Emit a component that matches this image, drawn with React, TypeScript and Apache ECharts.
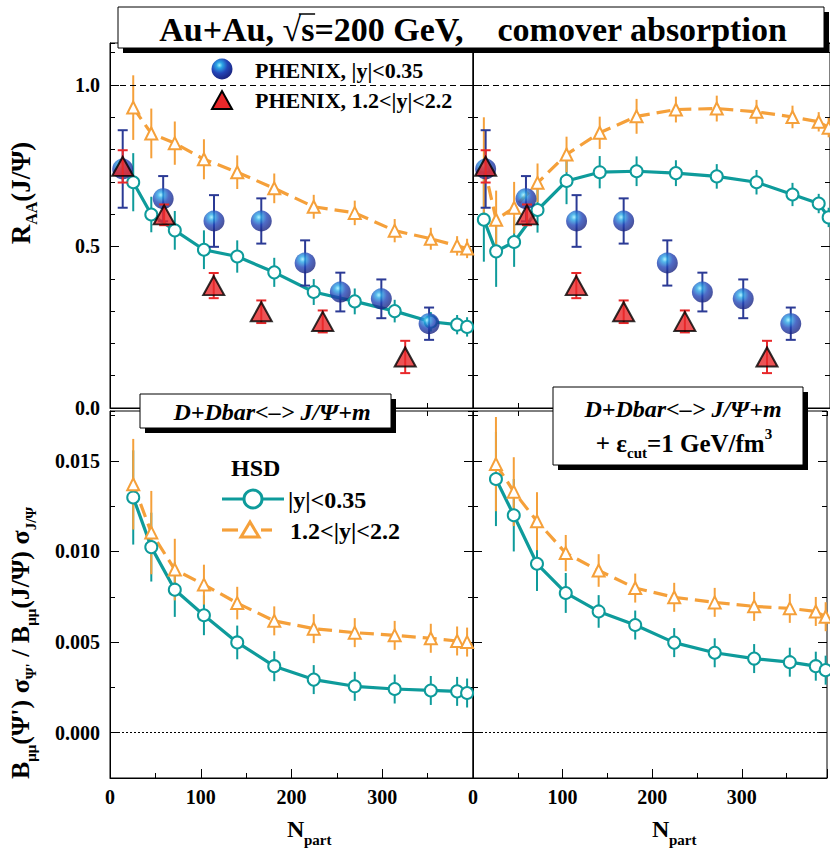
import React, { useEffect, useRef } from 'react';
import * as echarts from 'echarts';

// ---------------- data ----------------
const npart = [12, 25.6, 45.5, 71.4, 103.5, 140.2, 181, 224.5, 269.7, 313.7, 353.5, 382.5, 393.5];

// top-left: comover absorption (points 1..12 of npart)
const raaMidLeft = [0.699, 0.599, 0.55, 0.49, 0.469, 0.42, 0.359, 0.33, 0.3, 0.267, 0.258, 0.251];
const raaMidLeftErr = [0.09, 0.055, 0.06, 0.06, 0.05, 0.045, 0.04, 0.04, 0.035, 0.03, 0.03, 0.03];
const raaFwdLeft = [0.93, 0.85, 0.82, 0.77, 0.73, 0.68, 0.623, 0.604, 0.549, 0.524, 0.502, 0.494];
const raaFwdLeftErr = [0.1, 0.077, 0.067, 0.062, 0.052, 0.046, 0.037, 0.038, 0.036, 0.034, 0.03, 0.03];

// top-right: + D+Dbar <-> J/Psi + m, eps_cut (all 13 points)
const raaMidRight = [0.583, 0.485, 0.514, 0.613, 0.703, 0.73, 0.733, 0.727, 0.717, 0.699, 0.661, 0.633, 0.59];
const raaMidRightErr = [0.13, 0.11, 0.077, 0.07, 0.072, 0.05, 0.046, 0.04, 0.038, 0.038, 0.036, 0.03, 0.03];
const raaFwdRight = [0.75, 0.583, 0.62, 0.697, 0.785, 0.852, 0.903, 0.924, 0.927, 0.917, 0.901, 0.886, 0.868];
const raaFwdRightErr = [0.15, 0.09, 0.08, 0.06, 0.055, 0.05, 0.054, 0.04, 0.04, 0.037, 0.035, 0.03, 0.03];

// PHENIX data
const phenixMidX = [14, 58.6, 114.6, 166.7, 215, 253.8, 299, 351.6];
const phenixMidY = [0.74, 0.648, 0.579, 0.579, 0.449, 0.359, 0.338, 0.261];
const phenixMidErr = [0.12, 0.07, 0.08, 0.07, 0.07, 0.06, 0.06, 0.05];
const phenixFwdX = [14, 59.7, 114.3, 166.7, 234.4, 325.3];
const phenixFwdY = [0.748, 0.598, 0.379, 0.298, 0.268, 0.158];
const phenixFwdErr = [0.05, 0.032, 0.039, 0.035, 0.034, 0.05];

// bottom-left: psi'/J/psi ratio (points 1..12)
const psiMidLeft = [0.01298, 0.01024, 0.00789, 0.00648, 0.00498, 0.00367, 0.00293, 0.00256, 0.00241, 0.00233, 0.00228, 0.00219];
const psiMidLeftErr = [0.0026, 0.0019, 0.0015, 0.0011, 0.00093, 0.00083, 0.0008, 0.0008, 0.0008, 0.0008, 0.0008, 0.0008];
const psiFwdLeft = [0.01371, 0.01104, 0.009, 0.00817, 0.00715, 0.00617, 0.00574, 0.00552, 0.00537, 0.00521, 0.00506, 0.005];
const psiFwdLeftErr = [0.0025, 0.0023, 0.0017, 0.0011, 0.0009, 0.0008, 0.0008, 0.0008, 0.0008, 0.0008, 0.0008, 0.0008];

// bottom-right
const psiMidRight = [0.014, 0.012, 0.00932, 0.00771, 0.00669, 0.00594, 0.00497, 0.00441, 0.00409, 0.00389, 0.00367, 0.00345];
const psiMidRightErr = [0.0026, 0.002, 0.0015, 0.0011, 0.0009, 0.0008, 0.0008, 0.0008, 0.0008, 0.0008, 0.0008, 0.0008];
const psiFwdRight = [0.01482, 0.0133, 0.01167, 0.00991, 0.00895, 0.00798, 0.00747, 0.00719, 0.00697, 0.00686, 0.00669, 0.0064];
const psiFwdRightErr = [0.0026, 0.0019, 0.0016, 0.001, 0.0009, 0.0008, 0.0008, 0.0008, 0.0008, 0.0008, 0.0008, 0.0008];

// ---------------- style ----------------
const SERIF = 'Liberation Serif';
const TEAL = '#0e9b9b';
const ORANGE = '#f5a03a';
const BLUE_BAR = '#2b3a95';
const RED = '#e8282a';

const TITLE_TEXT = 'Au+Au, \u221As=200 GeV,\u00a0\u00a0\u00a0\u00a0comover absorption';

const isMult = (v: number, step: number) => {
  const k = v / step;
  return Math.abs(k - Math.round(k)) < 1e-4;
};

function textWidth(s: string, font: string) {
  const ctx = document.createElement('canvas').getContext('2d');
  if (!ctx) return s.length * 15;
  ctx.font = font;
  return ctx.measureText(s).width;
}

function sphereGradient() {
  return new echarts.graphic.RadialGradient(0.38, 0.32, 0.7, [
    { offset: 0, color: '#9af0ff' },
    { offset: 0.2, color: '#2ba6e6' },
    { offset: 0.55, color: '#2346b8' },
    { offset: 1, color: '#1a237e' },
  ]);
}

function buildOption() {
  const grids = [
    { left: 110, top: 43, width: 363, height: 365 },
    { left: 473, top: 43, width: 360, height: 365 },
    { left: 110, top: 411, width: 363, height: 367 },
    { left: 473, top: 411, width: 360, height: 367 },
  ].map((g) => ({ ...g, show: true, borderColor: '#000', borderWidth: 1, backgroundColor: 'transparent' }));

  const xAxis: any[] = [];
  const yAxis: any[] = [];
  const XI: number[] = [];
  const YI: number[] = [];
  const line = { color: '#000', width: 1 };
  const labelBase = { fontFamily: SERIF, fontWeight: 'bold', fontSize: 20, color: '#000' };

  function addAxes(g: number, xMax: number, yMin: number, yMax: number, yMinor: number, yMajors: number[],
    showX: boolean, showY: boolean, yFmt: (v: number) => string, xTop: boolean) {
    XI[g] = xAxis.length;
    xAxis.push({
      type: 'value', gridIndex: g, min: 0, max: xMax, interval: 50, position: 'bottom',
      axisLine: { show: true, onZero: false, lineStyle: line },
      axisTick: { show: true, inside: true, length: 5, lineStyle: line },
      axisLabel: { show: showX, ...labelBase, margin: 9, formatter: (v: number) => (isMult(v, 100) && v < 350 ? String(Math.round(v)) : '') },
      splitLine: { show: false },
    });
    xAxis.push({
      type: 'value', gridIndex: g, min: 0, max: xMax, interval: 100, position: 'bottom',
      axisLine: { show: false, onZero: false },
      axisTick: { show: true, inside: true, length: 9, lineStyle: line },
      axisLabel: { show: false }, splitLine: { show: false },
    });
    if (xTop) {
      xAxis.push({
        type: 'value', gridIndex: g, min: 0, max: xMax, interval: 50, position: 'top',
        axisLine: { show: false, onZero: false },
        axisTick: { show: true, inside: true, length: 5, lineStyle: line },
        axisLabel: { show: false }, splitLine: { show: false },
      });
    }
    YI[g] = yAxis.length;
    for (const pos of ['left', 'right']) {
      yAxis.push({
        type: 'value', gridIndex: g, min: yMin, max: yMax, interval: yMinor, position: pos,
        axisLine: { show: pos === 'left', onZero: false, lineStyle: line },
        axisTick: { show: true, inside: true, length: 5, lineStyle: line },
        axisLabel: { show: showY && pos === 'left', ...labelBase, margin: 10, formatter: yFmt },
        splitLine: { show: false },
      });
      yAxis.push({
        type: 'value', gridIndex: g, min: yMin, max: yMax, interval: yMinor, position: pos,
        axisLine: { show: false, onZero: false },
        axisTick: { show: true, inside: true, length: 9, lineStyle: line, customValues: yMajors },
        axisLabel: { show: false }, splitLine: { show: false },
      });
    }
  }

  const topFmt = (v: number) => (isMult(v, 0.5) && v < 1.05 ? v.toFixed(1) : '');
  const botFmt = (v: number) => (isMult(v, 0.005) && v > -0.001 && v < 0.0165 ? Math.abs(v).toFixed(3) : '');
  const topMajors = [0, 0.5, 1.0];
  const botMajors = [0, 0.005, 0.01, 0.015];

  addAxes(0, 400, 0, 1.13, 0.1, topMajors, false, true, topFmt, false);
  addAxes(1, 395, 0, 1.13, 0.1, topMajors, false, false, topFmt, false);
  addAxes(2, 400, -0.0025, 0.01775, 0.0025, botMajors, true, true, botFmt, true);
  addAxes(3, 395, -0.0025, 0.01775, 0.0025, botMajors, true, false, botFmt, true);

  const series: any[] = [];

  function errBars(g: number, xs: number[], ys: number[], es: number[], color: string, width: number, cap: number, z: number) {
    series.push({
      type: 'custom', xAxisIndex: XI[g], yAxisIndex: YI[g], z, clip: true, silent: true,
      data: xs.map((x, i) => [x, ys[i] - es[i], ys[i] + es[i]]),
      encode: { x: 0, y: [1, 2] },
      renderItem: (_p: any, api: any) => {
        const x = api.value(0);
        const a = api.coord([x, api.value(1)]);
        const b = api.coord([x, api.value(2)]);
        const style = { stroke: color, lineWidth: width };
        const children: any[] = [{ type: 'line', shape: { x1: a[0], y1: a[1], x2: b[0], y2: b[1] }, style }];
        if (cap > 0) {
          children.push({ type: 'line', shape: { x1: a[0] - cap, y1: a[1], x2: a[0] + cap, y2: a[1] }, style });
          children.push({ type: 'line', shape: { x1: b[0] - cap, y1: b[1], x2: b[0] + cap, y2: b[1] }, style });
        }
        return { type: 'group', children };
      },
    });
  }

  function curve(g: number, xs: number[], ys: number[], color: string, symbol: string, dashed: boolean, refY: number | null, dotted: boolean) {
    const s: any = {
      type: 'line', xAxisIndex: XI[g], yAxisIndex: YI[g], z: 3, clip: true, silent: true,
      data: xs.map((x, i) => [x, ys[i]]),
      symbol, symbolSize: 12, showSymbol: true, showAllSymbol: true,
      lineStyle: { color, width: 3.2, type: dashed ? [14, 7] : 'solid' },
      itemStyle: { color: '#fff', borderColor: color, borderWidth: 2 },
      emphasis: { disabled: true },
    };
    if (refY !== null) {
      s.markLine = {
        silent: true, symbol: ['none', 'none'], label: { show: false },
        lineStyle: { color: '#000', width: 1, type: dotted ? [2, 2] : [6, 4] },
        data: [{ yAxis: refY }],
      };
    }
    series.push(s);
  }

  function phenix(g: number) {
    errBars(g, phenixMidX, phenixMidY, phenixMidErr, BLUE_BAR, 2, 5, 4);
    series.push({
      type: 'scatter', xAxisIndex: XI[g], yAxisIndex: YI[g], z: 5, silent: true,
      data: phenixMidX.map((x, i) => [x, phenixMidY[i]]),
      symbol: 'circle', symbolSize: 21,
      itemStyle: { color: sphereGradient() },
    });
    errBars(g, phenixFwdX, phenixFwdY, phenixFwdErr, RED, 2, 5, 6);
    series.push({
      type: 'scatter', xAxisIndex: XI[g], yAxisIndex: YI[g], z: 7, silent: true,
      data: phenixFwdX.map((x, i) => [x, phenixFwdY[i]]),
      symbol: 'triangle', symbolSize: [21, 19],
      itemStyle: { color: RED, borderColor: '#000', borderWidth: 2 },
    });
  }

  const xL = npart.slice(1);
  // top-left
  errBars(0, xL, raaMidLeft, raaMidLeftErr, TEAL, 2, 0, 2);
  errBars(0, xL, raaFwdLeft, raaFwdLeftErr, ORANGE, 2, 0, 2);
  curve(0, xL, raaMidLeft, TEAL, 'circle', false, 1, false);
  curve(0, xL, raaFwdLeft, ORANGE, 'triangle', true, null, false);
  phenix(0);
  // top-right
  errBars(1, npart, raaMidRight, raaMidRightErr, TEAL, 2, 0, 2);
  errBars(1, npart, raaFwdRight, raaFwdRightErr, ORANGE, 2, 0, 2);
  curve(1, npart, raaMidRight, TEAL, 'circle', false, 1, false);
  curve(1, npart, raaFwdRight, ORANGE, 'triangle', true, null, false);
  phenix(1);
  // bottom-left
  errBars(2, xL, psiMidLeft, psiMidLeftErr, TEAL, 2, 0, 2);
  errBars(2, xL, psiFwdLeft, psiFwdLeftErr, ORANGE, 2, 0, 2);
  curve(2, xL, psiMidLeft, TEAL, 'circle', false, 0, true);
  curve(2, xL, psiFwdLeft, ORANGE, 'triangle', true, null, false);
  // bottom-right
  errBars(3, xL, psiMidRight, psiMidRightErr, TEAL, 2, 0, 2);
  errBars(3, xL, psiFwdRight, psiFwdRightErr, ORANGE, 2, 0, 2);
  curve(3, xL, psiMidRight, TEAL, 'circle', false, 0, true);
  curve(3, xL, psiFwdRight, ORANGE, 'triangle', true, null, false);

  const bold = (size: number) => ({ fontFamily: SERIF, fontWeight: 'bold', fontSize: size, fill: '#000' });
  const boldItalic = (size: number) => ({ fontFamily: SERIF, fontWeight: 'bold', fontStyle: 'italic', fontSize: size, fill: '#000' });
  const richMain = (size: number, lh: number) => ({ fontFamily: SERIF, fontWeight: 'bold', fontSize: size, lineHeight: lh, verticalAlign: 'middle', fill: '#000', color: '#000' });
  const richSub = (size: number) => ({ fontFamily: SERIF, fontWeight: 'bold', fontSize: size, lineHeight: 12, verticalAlign: 'bottom', fill: '#000', color: '#000' });
  const richSup = (size: number) => ({ fontFamily: SERIF, fontWeight: 'bold', fontSize: size, lineHeight: 12, verticalAlign: 'top', fill: '#000', color: '#000' });

  // overline for the square root in the title
  const titleFont = `bold 34px ${SERIF}`;
  const titleW = textWidth(TITLE_TEXT, titleFont);
  const titleStart = 473 - titleW / 2;
  const sqrtEnd = titleStart + textWidth('Au+Au, \u221A', titleFont);
  const sEnd = titleStart + textWidth('Au+Au, \u221As', titleFont);

  const elements: any[] = [
    // title box
    { type: 'rect', z: 100, shape: { x: 123, y: 12, width: 706, height: 41 }, style: { fill: '#000' } },
    { type: 'rect', z: 101, shape: { x: 118, y: 7, width: 706, height: 41 }, style: { fill: '#fff', stroke: '#000', lineWidth: 1 } },
    {
      type: 'text', z: 102, x: 473, y: 29,
      style: { text: TITLE_TEXT, ...bold(34), align: 'center', verticalAlign: 'middle' },
    },
    { type: 'line', z: 103, shape: { x1: sqrtEnd - 2, y1: 14, x2: sEnd + 1, y2: 14 }, style: { stroke: '#000', lineWidth: 1.5 } },
    // PHENIX legend
    { type: 'circle', z: 102, shape: { cx: 222, cy: 69, r: 10.5 }, style: { fill: sphereGradient() } },
    { type: 'polygon', z: 102, shape: { points: [[212, 109], [232, 109], [222, 91]] }, style: { fill: RED, stroke: '#000', lineWidth: 2 } },
    { type: 'text', z: 102, x: 255, y: 70, style: { text: 'PHENIX, |y|<0.35', ...bold(22), align: 'left', verticalAlign: 'middle' } },
    { type: 'text', z: 102, x: 255, y: 100, style: { text: 'PHENIX, 1.2<|y|<2.2', ...bold(22), align: 'left', verticalAlign: 'middle' } },
    // HSD legend
    { type: 'text', z: 102, x: 231, y: 468, style: { text: 'HSD', ...bold(24), align: 'left', verticalAlign: 'middle' } },
    { type: 'line', z: 102, shape: { x1: 222, y1: 499, x2: 284, y2: 499 }, style: { stroke: TEAL, lineWidth: 3.2 } },
    { type: 'circle', z: 103, shape: { cx: 253, cy: 499, r: 9 }, style: { fill: '#fff', stroke: TEAL, lineWidth: 3 } },
    { type: 'text', z: 102, x: 288, y: 500, style: { text: '|y|<0.35', ...bold(24), align: 'left', verticalAlign: 'middle' } },
    { type: 'line', z: 102, shape: { x1: 222, y1: 530, x2: 238, y2: 530 }, style: { stroke: ORANGE, lineWidth: 3.2 } },
    { type: 'line', z: 102, shape: { x1: 261, y1: 530, x2: 272, y2: 530 }, style: { stroke: ORANGE, lineWidth: 3.2 } },
    { type: 'polygon', z: 103, shape: { points: [[241, 537], [259, 537], [250, 522]] }, style: { fill: '#fff', stroke: ORANGE, lineWidth: 3 } },
    { type: 'text', z: 102, x: 290, y: 531, style: { text: '1.2<|y|<2.2', ...bold(24), align: 'left', verticalAlign: 'middle' } },
    // bottom-left box
    { type: 'rect', z: 100, shape: { x: 145, y: 399, width: 251, height: 34 }, style: { fill: '#000' } },
    { type: 'rect', z: 101, shape: { x: 140, y: 394, width: 251, height: 34 }, style: { fill: '#fff', stroke: '#000', lineWidth: 1 } },
    { type: 'text', z: 102, x: 272, y: 412, style: { text: 'D+Dbar<\u2013> J/\u03A8+m', ...boldItalic(24), align: 'center', verticalAlign: 'middle' } },
    // bottom-right box
    { type: 'rect', z: 100, shape: { x: 558, y: 392, width: 250, height: 78 }, style: { fill: '#000' } },
    { type: 'rect', z: 101, shape: { x: 553, y: 387, width: 250, height: 78 }, style: { fill: '#fff', stroke: '#000', lineWidth: 1 } },
    { type: 'text', z: 102, x: 683, y: 409, style: { text: 'D+Dbar<\u2013> J/\u03A8+m', ...boldItalic(24), align: 'center', verticalAlign: 'middle' } },
    {
      type: 'text', z: 102, x: 684, y: 443,
      style: {
        text: '{m|+ \u03B5}{s|cut}{m|=1 GeV/fm}{p|3}', align: 'center', verticalAlign: 'middle', fill: '#000',
        rich: { m: richMain(25, 34), s: richSub(15), p: richSup(15) },
      },
    },
    // axis titles
    {
      type: 'text', z: 102, x: 21, y: 193, rotation: Math.PI / 2,
      style: {
        text: '{m|R}{s|AA}{m|(J/\u03A8)}', align: 'center', verticalAlign: 'middle', fill: '#000',
        rich: { m: richMain(27, 36), s: richSub(16) },
      },
    },
    {
      type: 'text', z: 102, x: 20, y: 643, rotation: Math.PI / 2,
      style: {
        text: "{m|B}{s|\u03BC\u03BC}{m|(\u03A8') \u03C3}{s|\u03A8'}{m| / B}{s|\u03BC\u03BC}{m|(J/\u03A8) \u03C3}{s|J/\u03A8}",
        align: 'center', verticalAlign: 'middle', fill: '#000',
        rich: { m: richMain(26, 36), s: richSub(15) },
      },
    },
    { type: 'text', z: 102, x: 287, y: 829, style: { text: 'N', ...bold(24), align: 'left', verticalAlign: 'middle' } },
    { type: 'text', z: 102, x: 304, y: 840, style: { text: 'part', ...bold(15), align: 'left', verticalAlign: 'middle' } },
    { type: 'text', z: 102, x: 652, y: 829, style: { text: 'N', ...bold(24), align: 'left', verticalAlign: 'middle' } },
    { type: 'text', z: 102, x: 669, y: 840, style: { text: 'part', ...bold(15), align: 'left', verticalAlign: 'middle' } },
  ];

  return {
    animation: false,
    backgroundColor: '#fff',
    grid: grids,
    xAxis,
    yAxis,
    series,
    graphic: { elements },
  };
}

export default function App() {
  const ref = useRef<HTMLDivElement>(null);
  useEffect(() => {
    if (!ref.current) return;
    const chart = echarts.init(ref.current, null, { renderer: 'svg' });
    chart.setOption(buildOption() as any);
    return () => chart.dispose();
  }, []);
  return <div ref={ref} style={{ position: 'absolute', left: 0, top: 0, width: 830, height: 850 }} />;
}
